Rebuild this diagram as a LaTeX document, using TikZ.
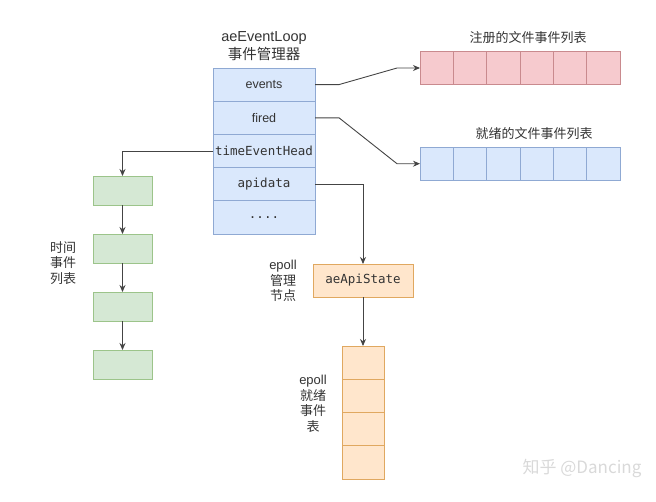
\documentclass[tikz,border=0pt]{standalone}
\usepackage{fontspec}
\setmainfont{Liberation Sans}
\setmonofont{DejaVu Sans Mono}
\newfontfamily\cjk{Noto Sans CJK SC}
\usetikzlibrary{arrows.meta, positioning}

\definecolor{loopfill}{HTML}{DAE8FC}
\definecolor{loopline}{HTML}{8FA9D3}
\definecolor{regfill}{HTML}{F6CACE}
\definecolor{regline}{HTML}{C98A8E}
\definecolor{timefill}{HTML}{D5E8D4}
\definecolor{timeline}{HTML}{9CC48A}
\definecolor{epfill}{HTML}{FFE6CC}
\definecolor{epline}{HTML}{E0A860}
\definecolor{wirecol}{HTML}{444444}
\definecolor{textcol}{HTML}{333333}

\tikzset{
  field/.style={draw=loopline, fill=loopfill, line width=0.8pt, minimum width=102pt, minimum height=33.2pt,
    inner sep=0pt, outer sep=0pt, text=textcol, font=\fontsize{12.5}{14}\selectfont},
  monofield/.style={field, font=\ttfamily\fontsize{12.5}{14}\selectfont},
  regcell/.style={draw=regline, fill=regfill, line width=0.8pt, minimum width=33.33pt, minimum height=33pt, outer sep=0pt},
  rdycell/.style={draw=loopline, fill=loopfill, line width=0.8pt, minimum width=33.33pt, minimum height=33pt, outer sep=0pt},
  timebox/.style={draw=timeline, fill=timefill, line width=0.8pt, minimum width=59pt, minimum height=29pt, outer sep=0pt},
  epcell/.style={draw=epline, fill=epfill, line width=0.8pt, minimum width=42pt, minimum height=33.25pt, outer sep=0pt},
  lbl/.style={align=center, text=textcol, font=\fontsize{13}{15.5}\selectfont},
  wire/.style={draw=wirecol, line width=0.9pt},
  arr/.style={wire, -{Stealth[length=7pt,width=6pt]}}
}

\begin{document}
\begin{tikzpicture}[x=1pt, y=-1pt]
\useasboundingbox (0,0) rectangle (656,501);

\node[lbl, font=\fontsize{14.5}{18}\selectfont] (title) at (264,46) {aeEventLoop\\{\cjk 事件管理器}};
\node[field] (events) at (264,84.6) {events};
\node[field, below=0pt of events] (fired) {fired};
\node[monofield, below=0pt of fired] (timehead) {timeEventHead};
\node[monofield, below=0pt of timehead] (apidata) {apidata};
\node[monofield, below=0pt of apidata] (more) {....};

\foreach \i in {1,...,6}
  \node[regcell] (reg\i) at ({420+33.33*(\i-0.5)},68) {};
\foreach \i in {1,...,6}
  \node[rdycell] (rdy\i) at ({420+33.33*(\i-0.5)},163.7) {};
\node[lbl] (reglbl) at (528,38) {\cjk 注册的文件事件列表};
\node[lbl] (rdylbl) at (534,134) {\cjk 就绪的文件事件列表};

\foreach \i/\y in {1/190.5, 2/248.5, 3/306.5, 4/364.5}
  \node[timebox] (t\i) at (122.5,\y) {};
\node[lbl] (timelbl) at (63,263) {\cjk 时间\\\cjk 事件\\\cjk 列表};

\node[epcell, minimum width=100pt, minimum height=33pt, text=textcol,
  font=\ttfamily\fontsize{12.5}{14}\selectfont] (state) at (363,280.5) {aeApiState};
\foreach \i in {1,...,4}
  \node[epcell] (ep\i) at (363,{346+33.25*(\i-0.5)}) {};
\node[lbl] (statelbl) at (283,281) {epoll\\\cjk 管理\\\cjk 节点};
\node[lbl] (eplbl) at (313,404) {epoll\\\cjk 就绪\\\cjk 事件\\\cjk 表};

\draw[arr] (events.east) -- ++(24,0) -- ([xshift=-23pt]reg1.west) -- (reg1.west);
\draw[arr] (fired.east) -- ++(24,0) -- ([xshift=-23pt]rdy1.west) -- (rdy1.west);
\draw[arr] (timehead.west) -| (t1.north);
\draw[arr] (apidata.east) -| (state.north);
\draw[arr] (state.south) -- (ep1.north);
\foreach \a/\b in {t1/t2, t2/t3, t3/t4}
  \draw[arr] (\a.south) -- (\b.north);

\node[text=gray!30, font=\cjk\fontsize{17}{20}\selectfont] (mark) at (582,468) {知乎 @Dancing};
\end{tikzpicture}
\end{document}
